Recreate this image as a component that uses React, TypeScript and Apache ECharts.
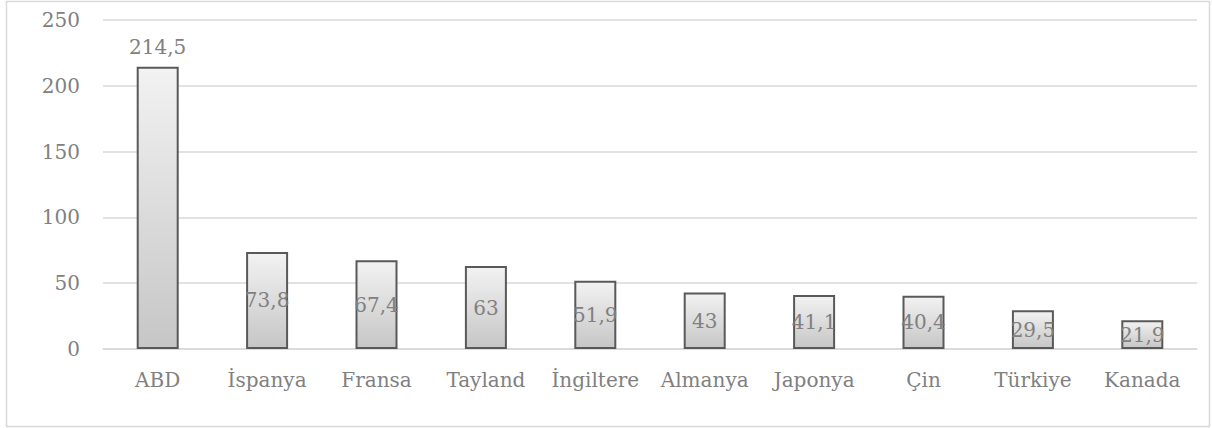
import React, { useEffect, useRef } from "react";
import * as echarts from "echarts";

const categories = ["ABD", "İspanya", "Fransa", "Tayland", "İngiltere", "Almanya", "Japonya", "Çin", "Türkiye", "Kanada"];
const values = [214.5, 73.8, 67.4, 63, 51.9, 43, 41.1, 40.4, 29.5, 21.9];
const yTicks = [0, 50, 100, 150, 200, 250];

const FONT = "DejaVu Serif";

export default function App() {
  const ref = useRef<HTMLDivElement>(null);
  useEffect(() => {
    if (!ref.current) return;
    const chart = echarts.init(ref.current, null, { renderer: "svg" });
    const fmt = (v: number) => String(v).replace(".", ",");
    chart.setOption({
      animation: false,
      backgroundColor: "#ffffff",
      graphic: [
        {
          type: "rect",
          shape: { x: 6.5, y: 1.5, width: 1203, height: 425 },
          style: { fill: "none", stroke: "#d9d9d9", lineWidth: 1.5 },
          silent: true,
        },
      ],
      grid: { left: 103, right: 15, top: 20, bottom: 79, containLabel: false },
      xAxis: {
        type: "category",
        data: categories,
        axisLine: { show: true, lineStyle: { color: "#d9d9d9", width: 1.5 } },
        axisTick: { show: false },
        axisLabel: { color: "#808080", fontFamily: FONT, fontSize: 20, margin: 21, interval: 0 },
      },
      yAxis: {
        type: "value",
        min: 0,
        max: 250,
        interval: 50,
        axisLine: { show: false },
        axisTick: { show: false },
        splitLine: { lineStyle: { color: "#d9d9d9", width: 1.5 } },
        axisLabel: {
          color: "#808080",
          fontFamily: FONT,
          fontSize: 20,
          margin: 23,
          formatter: (v: number) => (yTicks.includes(v) ? String(v) : ""),
        },
      },
      series: [
        {
          type: "bar",
          barWidth: 42,
          data: values.map((v, i) => ({
            value: v,
            label: {
              show: true,
              position: i === 0 ? "top" : "inside",
              distance: 10,
              color: "#808080",
              fontFamily: FONT,
              fontSize: 20,
              formatter: () => fmt(v),
            },
          })),
          itemStyle: {
            color: new echarts.graphic.LinearGradient(0, 0, 0, 1, [
              { offset: 0, color: "#f2f2f2" },
              { offset: 1, color: "#c6c6c6" },
            ]),
            borderColor: "#595959",
            borderWidth: 2,
          },
        },
      ],
    });
    return () => chart.dispose();
  }, []);
  return (
    <div
      ref={ref}
      style={{ position: "absolute", left: 0, top: 0, width: 1212, height: 428 }}
    />
  );
}
